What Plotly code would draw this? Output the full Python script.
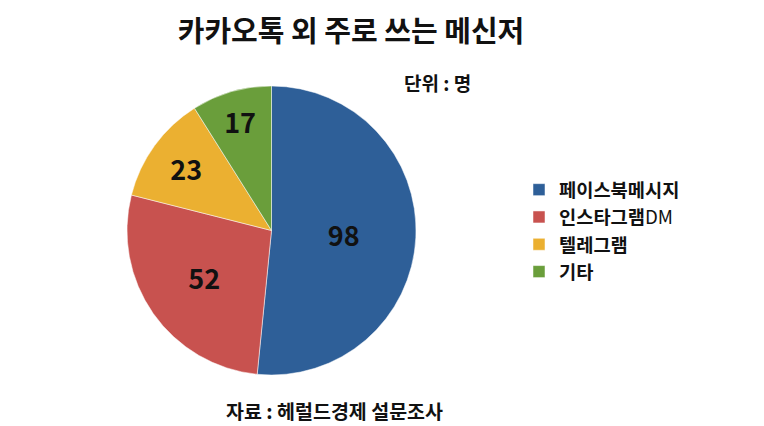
import plotly.graph_objects as go

FONT = 'Noto Sans CJK KR'

labels = ['<b>페이스북메시지</b>', '<b>인스타그램</b>DM', '<b>텔레그램</b>', '<b>기타</b>']
values = [98, 52, 23, 17]
colors = ['#2E5F98', '#C8524F', '#EBB031', '#6A9E3B']

W, H = 764, 426

fig = go.Figure()

fig.add_trace(go.Pie(
    labels        = labels,
    values        = values,
    sort          = False,
    direction     = 'clockwise',
    rotation      = 0,
    textinfo      = 'value',
    textposition  = 'inside',
    insidetextorientation = 'horizontal',
    texttemplate  = '<b>%{value}</b>',
    textfont      = dict(family = FONT, size = 27, color = '#111111'),
    marker        = dict(colors = colors, line = dict(color = 'white', width = 0.5)),
    domain        = dict(x = [127 / W, 416 / W], y = [1 - 375 / H, 1 - 86 / H]),
    hoverinfo     = 'label+value',
))

fig.update_layout(
    width  = W,
    height = H,
    paper_bgcolor = 'white',
    plot_bgcolor  = 'white',
    margin = dict(t = 0, b = 0, l = 0, r = 0),
    showlegend = True,
    title = dict(
        text = '<b>카카오톡 외 주로 쓰는 메신저</b>',
        x = 351 / W, xanchor = 'center',
        y = 1 - 32 / H, yanchor = 'middle',
        font = dict(family = FONT, size = 29, color = '#111111'),
    ),
    legend = dict(
        x = 519 / W, xanchor = 'left',
        y = 1 - 171 / H, yanchor = 'top',
        font = dict(family = FONT, size = 18.7, color = '#111111'),
        itemwidth = 30,
        tracegroupgap = 0,
    ),
    annotations = [
        dict(
            text = '<b>단위 : 명</b>',
            x = 437 / W, y = 1 - 82 / H,
            xref = 'paper', yref = 'paper',
            xanchor = 'center', yanchor = 'middle',
            showarrow = False,
            font = dict(family = FONT, size = 19, color = '#111111'),
        ),
        dict(
            text = '<b>자료 : 헤럴드경제 설문조사</b>',
            x = 334 / W, y = 1 - 410 / H,
            xref = 'paper', yref = 'paper',
            xanchor = 'center', yanchor = 'middle',
            showarrow = False,
            font = dict(family = FONT, size = 19.5, color = '#111111'),
        ),
    ],
)

# drop the browser's default body margin so the figure fills the window
fig.write_html(
    'out.html',
    config = dict(displayModeBar = False),
    post_script = "document.body.style.margin = '0';",
)
